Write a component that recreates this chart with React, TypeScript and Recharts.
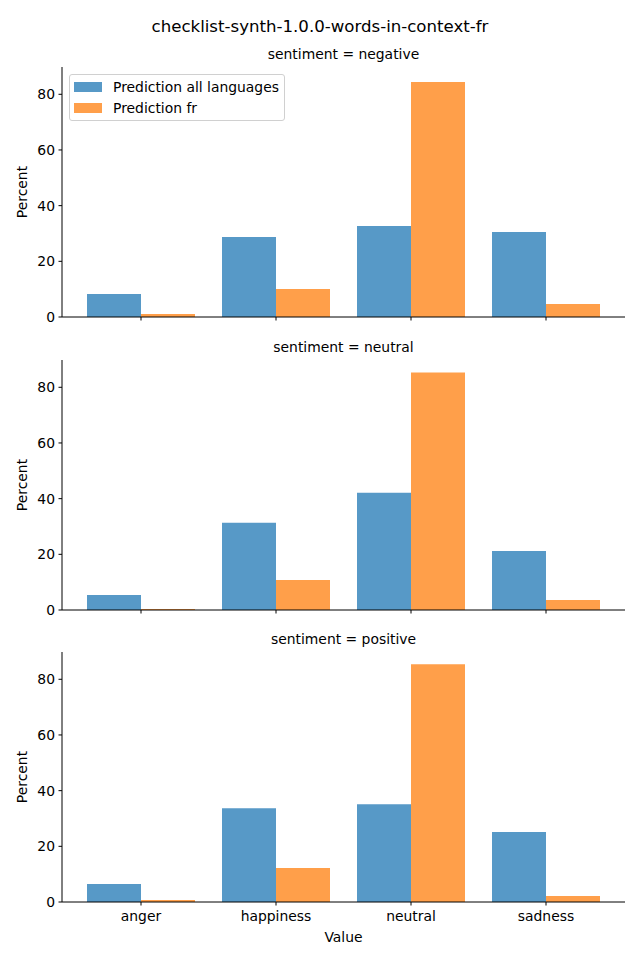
import React from "react"
import { BarChart, Bar, XAxis, YAxis } from "recharts"

const categories = ["anger", "happiness", "neutral", "sadness"]
const seriesNames = ["Prediction all languages", "Prediction fr"]
const yTicks = [0, 20, 40, 60, 80]

const negativeAll = [8.3, 28.7, 32.7, 30.5]
const negativeFr = [1.1, 10.1, 84.4, 4.7]
const neutralAll = [5.4, 31.3, 42.1, 21.2]
const neutralFr = [0.4, 10.8, 85.3, 3.6]
const positiveAll = [6.5, 33.7, 35.1, 25.1]
const positiveFr = [0.7, 12.2, 85.4, 2.2]

const BLUE = "#5799c7"
const ORANGE = "#ff9f4a"
const FONT = "'DejaVu Sans', sans-serif"
const FS = 13.9

const panels = [
  { title: "sentiment = negative", all: negativeAll, fr: negativeFr, top: 67, showLabels: false },
  { title: "sentiment = neutral", all: neutralAll, fr: neutralFr, top: 360, showLabels: false },
  { title: "sentiment = positive", all: positiveAll, fr: positiveFr, top: 652, showLabels: true },
]

const PLOT_H = 250
const AXIS_H = 30

function Panel({ panel }: { panel: typeof panels[number] }) {
  const data = categories.map((c, i) => ({ name: c, all: panel.all[i], fr: panel.fr[i] }))
  const tickStyle = { fill: "#000", fontSize: FS, fontFamily: FONT }

  return (
    <div style={{ position: "absolute", left: 0, top: panel.top }}>
      <BarChart
        width={640}
        height={PLOT_H + AXIS_H}
        data={data}
        margin={{ top: 0, right: 15, left: 0, bottom: 0 }}
        barCategoryGap="10%"
        barGap={0}
      >
        <XAxis
          dataKey="name"
          height={AXIS_H}
          padding={{ left: 11.5, right: 11.5 }}
          stroke="#000"
          axisLine={{ stroke: "#000", strokeWidth: 1 }}
          tickLine={{ stroke: "#000" }}
          tickSize={3.5}
          tickMargin={5.5}
          tick={tickStyle}
          tickFormatter={(v: string) => (panel.showLabels ? v : "")}
        />
        <YAxis
          width={62}
          domain={[0, 89.8]}
          ticks={yTicks}
          stroke="#000"
          axisLine={{ stroke: "#000", strokeWidth: 1 }}
          tickLine={{ stroke: "#000" }}
          tickSize={3.5}
          tickMargin={3.5}
          tick={tickStyle}
        />
        <Bar dataKey="all" fill={BLUE} isAnimationActive={false} />
        <Bar dataKey="fr" fill={ORANGE} isAnimationActive={false} />
      </BarChart>

      {/* facet title */}
      <div style={{ position: "absolute", left: 62, width: 563, top: -21, textAlign: "center", fontSize: FS, fontFamily: FONT }}>
        {panel.title}
      </div>

      {/* y label */}
      <div
        style={{
          position: "absolute",
          left: 22,
          top: PLOT_H / 2,
          transform: "translate(-50%, -50%) rotate(-90deg)",
          fontSize: FS,
          fontFamily: FONT,
          whiteSpace: "nowrap",
        }}
      >
        Percent
      </div>
    </div>
  )
}

export default function App() {
  return (
    <div style={{ position: "absolute", left: 0, top: 0, width: 640, height: 960, background: "#fff", fontFamily: FONT }}>
      <div style={{ position: "absolute", left: 0, width: 640, top: 17, textAlign: "center", fontSize: 16.6 }}>
        checklist-synth-1.0.0-words-in-context-fr
      </div>

      {panels.map((p) => (
        <Panel key={p.title} panel={p} />
      ))}

      {/* legend */}
      <div
        style={{
          position: "absolute",
          left: 69,
          top: 74,
          width: 214,
          height: 45,
          border: "1px solid #d0d0d0",
          borderRadius: 3,
          background: "rgba(255,255,255,0.8)",
          fontSize: FS,
        }}
      >
        {seriesNames.map((name, i) => (
          <div key={name} style={{ position: "absolute", left: 4, top: 7 + i * 21, display: "flex", alignItems: "center", height: 10 }}>
            <div style={{ width: 28, height: 10, background: i === 0 ? BLUE : ORANGE }} />
            <span style={{ marginLeft: 11, whiteSpace: "nowrap" }}>{name}</span>
          </div>
        ))}
      </div>

      <div style={{ position: "absolute", left: 62, width: 563, top: 929, textAlign: "center", fontSize: FS }}>Value</div>
    </div>
  )
}
